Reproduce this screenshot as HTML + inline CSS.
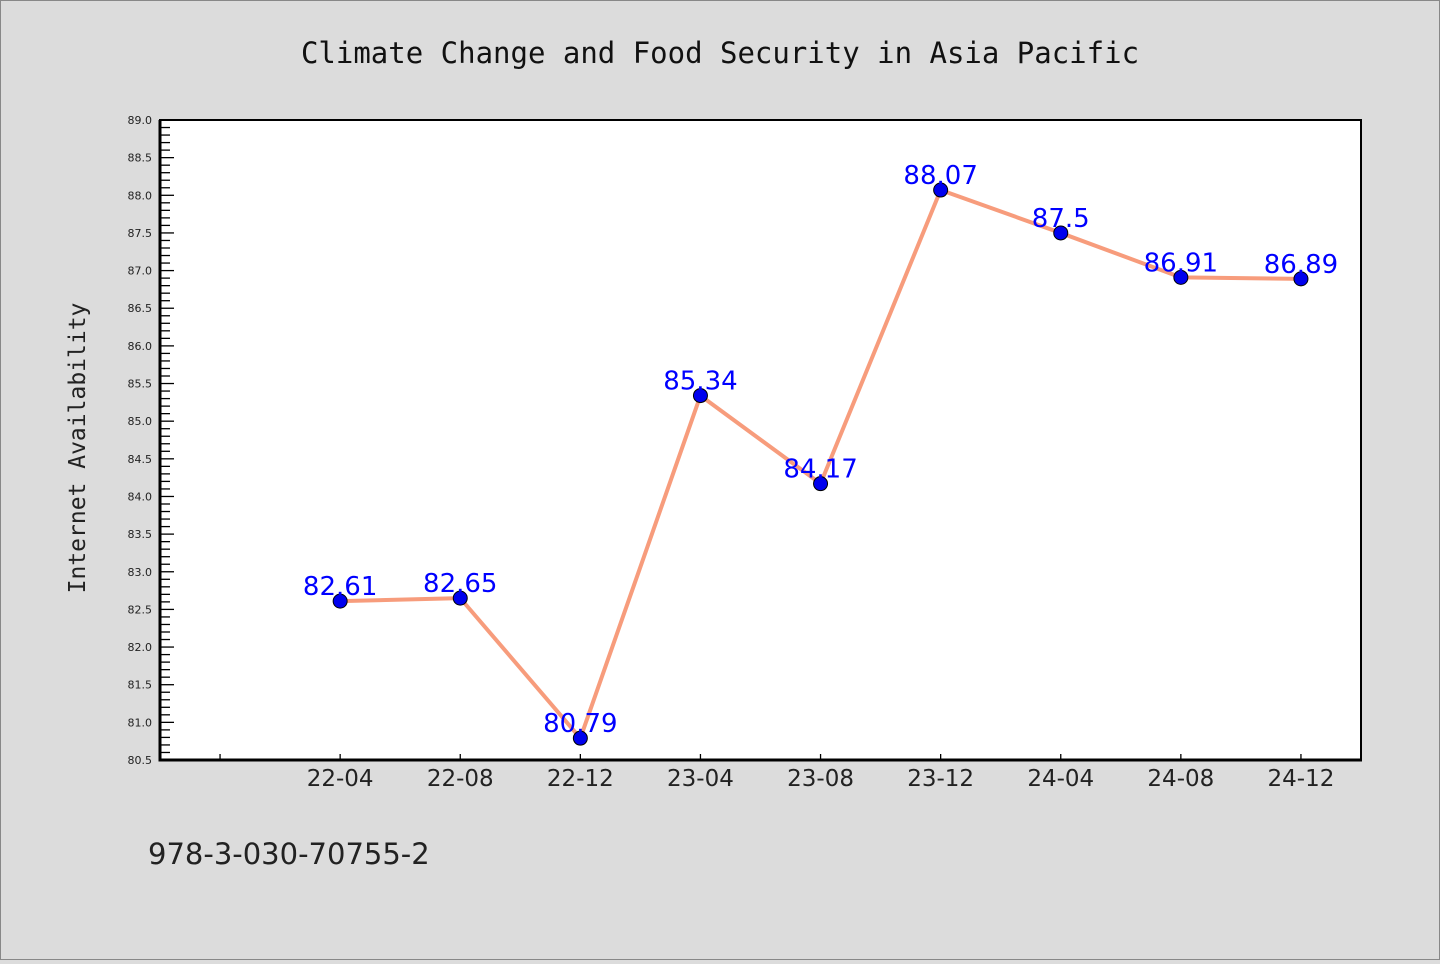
<!DOCTYPE html>
<html><head><meta charset="utf-8"><style>
body{margin:0;width:1440px;height:960px;overflow:hidden;background:#dcdcdc;font-family:"DejaVu Sans","Liberation Sans",sans-serif;}
</style></head><body>
<svg width="1440" height="960" xmlns="http://www.w3.org/2000/svg">
<rect x="0.5" y="0.5" width="1439" height="959" fill="#dcdcdc" stroke="#888"/>
<text x="720" y="63" text-anchor="middle" font-size="29" font-family="DejaVu Sans Mono, Liberation Mono, monospace" fill="#111">Climate Change and Food Security in Asia Pacific</text>
<text transform="translate(85,448) rotate(-90)" text-anchor="middle" font-size="23" font-family="DejaVu Sans Mono, Liberation Mono, monospace" fill="#222">Internet Availability</text>
<text x="148" y="864" font-size="29" fill="#222">978-3-030-70755-2</text>
<rect x="160" y="120" width="1201" height="640" fill="#fff" stroke="#000" stroke-width="2"/>
<g id="g"></g>
</svg>
<script>
const categories=["22-04","22-08","22-12","23-04","23-08","23-12","24-04","24-08","24-12"];
const values=[82.61,82.65,80.79,85.34,84.17,88.07,87.5,86.91,86.89];
const valueLabels=["82.61","82.65","80.79","85.34","84.17","88.07","87.5","86.91","86.89"];
const yTicks=["80.5","81.0","81.5","82.0","82.5","83.0","83.5","84.0","84.5","85.0","85.5","86.0","86.5","87.0","87.5","88.0","88.5","89.0"];
const ns="http://www.w3.org/2000/svg";
const L=160,R=1361,T=120,B=760,yMin=80.5,yMax=89.0;
const x=i=>L+(i+1.5)*(R-L)/10;
const y=v=>B-(v-yMin)/(yMax-yMin)*(B-T);
const g=document.getElementById('g');
function mk(t,a){const e=document.createElementNS(ns,t);for(const k in a)e.setAttribute(k,a[k]);g.appendChild(e);return e;}
// minor y ticks
for(let k=0;k<=85;k++){const v=yMin+k*0.1;const major=k%5===0;
 const e=mk('line',{x1:L,x2:L+(major?14:10),y1:y(v),y2:y(v),stroke:'#000','stroke-width':1.3});
 
 }
yTicks.forEach(t=>{const e=mk('text',{x:L-8,y:y(+t)+4,'text-anchor':'end','font-size':11,fill:'#222'});e.textContent=t;
 
 });
// x ticks
for(let i=-1;i<categories.length;i++){const e=mk('line',{x1:x(i),x2:x(i),y1:B,y2:B-6,stroke:'#000','stroke-width':1.3});
 
 }
categories.forEach((c,i)=>{const e=mk('text',{x:x(i),y:B+26,'text-anchor':'middle','font-size':23,fill:'#222'});e.textContent=c;
 
 });
// axis lines
let a1=mk('line',{x1:L,x2:L,y1:T,y2:B+1.5,stroke:'#000','stroke-width':3});


let a2=mk('line',{x1:L-1.5,x2:R+1,y1:B,y2:B,stroke:'#000','stroke-width':3});


// line
const pl=mk('polyline',{points:values.map((v,i)=>x(i)+','+y(v)).join(' '),fill:'none',stroke:'#f79c7c','stroke-width':4,'stroke-linejoin':'round'});


values.forEach((v,i)=>{const c=mk('circle',{cx:x(i),cy:y(v),r:7,fill:'#0000ee',stroke:'#000','stroke-width':1});
 
 
 const t=mk('text',{x:x(i),y:y(v)-6,'text-anchor':'middle','font-size':26,fill:'#0000ff'});t.textContent=valueLabels[i];
 
 });
</script>
</body></html>
